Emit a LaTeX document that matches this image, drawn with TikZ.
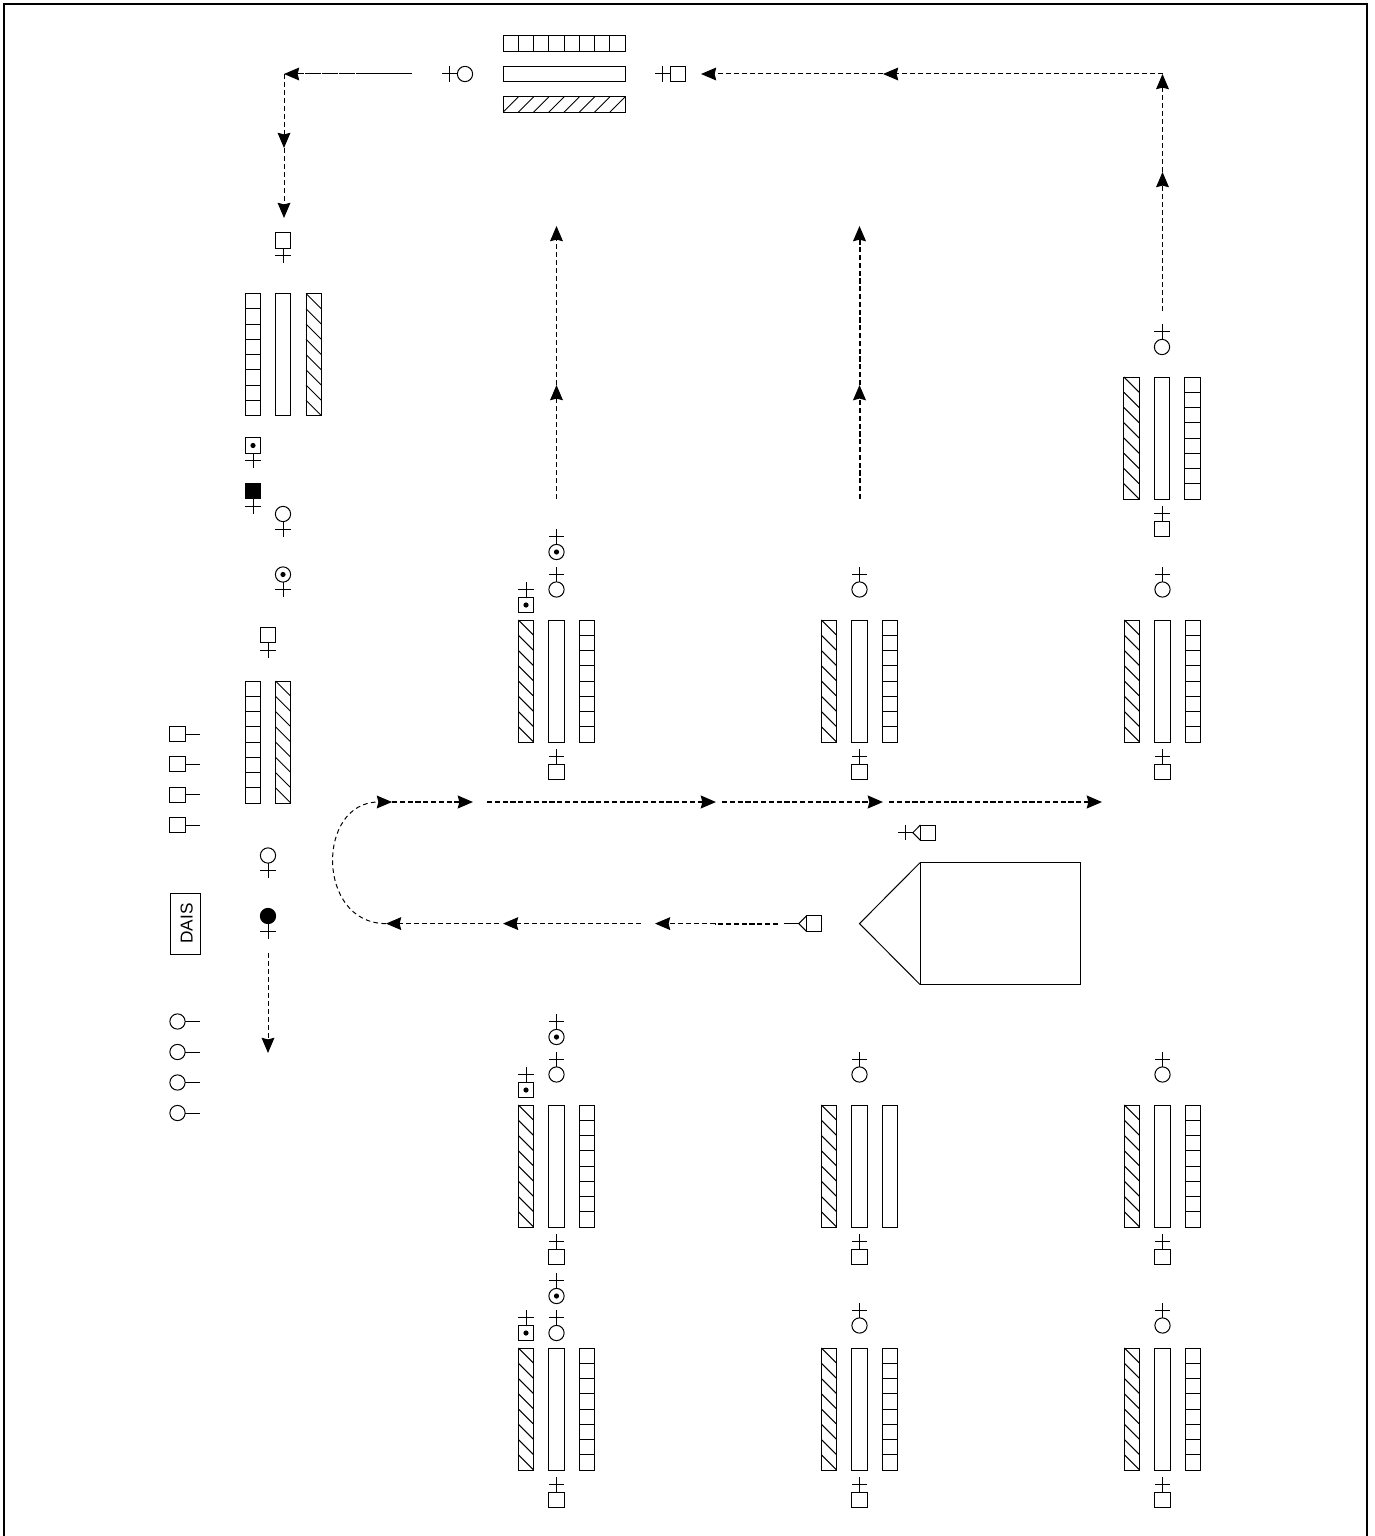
\documentclass[tikz,border=0pt]{standalone}
\usepackage{fontspec}
\setmainfont{Liberation Sans}
\usetikzlibrary{arrows.meta}
\tikzset{
  x=0.5pt,y=-0.5pt,
  ink/.style={line width=0.5pt,line join=miter},
  barbox/.style={draw,ink,rectangle,inner sep=0pt,outer sep=0pt,anchor=north west},
  vbar/.style={barbox,minimum width=7.625pt,minimum height=61pt},
  hbar/.style={barbox,minimum width=61pt,minimum height=7.625pt},
  sq/.style={draw,ink,rectangle,inner sep=0pt,outer sep=0pt,minimum size=7.625pt},
  circ/.style={draw,ink,circle,inner sep=0pt,outer sep=0pt,minimum size=7.625pt},
  fsq/.style={sq,fill=black},
  fcirc/.style={circ,fill=black},
  centredot/.style={circle,fill=black,inner sep=0pt,minimum size=2.6pt},
  tipped/.style={-{Stealth[length=7.6pt,width=6.4pt,inset=0.8pt]}},
  thinflow/.style={tipped,line width=0.5pt,dash pattern=on 2.3pt off 1.7pt},
  thickflow/.style={tipped,line width=1pt,dash pattern=on 2.6pt off 1.3pt},
  thickplain/.style={line width=1pt,dash pattern=on 2.6pt off 1.3pt},
  longflow/.style={tipped,line width=0.5pt,dash pattern=on 8pt off 0.5pt},
  frameline/.style={line width=1pt},
}
% vertical bars: name, x left, y top
\newcommand\plainv[3]{\node[vbar] (#1) at (#2,#3) {};}
\newcommand\gridv[3]{\node[vbar] (#1) at (#2,#3) {};
  \foreach \k in {1,...,7} \draw[ink] (#2,{#3+\k*15.25}) -- ++(15.25,0);}
\newcommand\hatchv[3]{\node[vbar] (#1) at (#2,#3) {};
  \foreach \k in {0,...,7} \draw[ink] (#2,{#3+\k*15.25}) -- ++(15.25,15.25);}
% symbol: name, node style, cx, cy, dx, dy of stem
\newcommand\sym[6]{\node[#2] (#1) at (#3,#4) {};
  \draw[ink] ({#3+#5*7.625},{#4+#6*7.625}) -- ({#3+#5*22.875},{#4+#6*22.875});
  \draw[ink] ({#3+#5*15.25-#6*7.625},{#4+#6*15.25-#5*7.625}) -- ({#3+#5*15.25+#6*7.625},{#4+#6*15.25+#5*7.625});}
\newcommand\dotted[6]{\sym{#1}{#2}{#3}{#4}{#5}{#6}\node[centredot] at (#3,#4) {};}
% symbol with stem, no cross bar
\newcommand\legend[4]{\node[#2] (#1) at (#3,#4) {};
  \draw[ink] ({#3+7.625},#4) -- ({#3+22.5},#4);}
% a column of three bars, named #1h #1p #1g, with centre x #2, top y #3, and pin symbols
\newcommand\threebars[3]{\hatchv{#1h}{#2-38.125}{#3}\plainv{#1p}{#2-7.625}{#3}\gridv{#1g}{#2+22.875}{#3}}
\begin{document}
\begin{tikzpicture}
\useasboundingbox (0,0) rectangle (1375,1536);
\fill[white] (0,0) rectangle (1375,1536);
\draw[frameline] (4.3,1536) -- (4.3,4.3) -- (1366.7,4.3) -- (1366.7,1536);

% top bars
\node[hbar] (tg) at (503,36) {};
\foreach \k in {1,...,7} \draw[ink] ({503+\k*15.25},36) -- ++(0,15.25);
\node[hbar] (tp) at (503,66.5) {};
\node[hbar] (th) at (503,97) {};
\foreach \k in {0,...,7} \draw[ink] ({503+\k*15.25},112.25) -- ++(15.25,-15.25);
\sym{tl}{circ}{465}{74}{-1}{0}
\sym{tr}{sq}{678}{74}{-1}{0}

% left column
\sym{la}{sq}{283}{240.5}{0}{1}
\gridv{lg}{245}{293.5}\plainv{lp}{275.5}{293.5}\hatchv{lh}{306}{293.5}
\dotted{lb}{sq}{253}{445.5}{0}{1}
\sym{lc}{fsq}{253}{491}{0}{1}
\sym{ld}{circ}{283}{514}{0}{1}
\dotted{le}{circ}{283}{574.5}{0}{1}
\sym{lf}{sq}{268}{635}{0}{1}
\gridv{mg}{245}{681}\hatchv{mh}{275.5}{681}
\sym{lj}{circ}{268}{855.5}{0}{1}
\sym{lk}{fcirc}{268}{916}{0}{1}
\legend{s1}{sq}{177.5}{734}
\legend{s2}{sq}{177.5}{764}
\legend{s3}{sq}{177.5}{794.7}
\legend{s4}{sq}{177.5}{825}
\legend{c1}{circ}{177.5}{1021.5}
\legend{c2}{circ}{177.5}{1052}
\legend{c3}{circ}{177.5}{1082.5}
\legend{c4}{circ}{177.5}{1113}
\node[draw,ink,rectangle,inner sep=0pt,rotate=90,minimum width=30.5pt,minimum height=15pt,text height=7.7pt,text depth=0pt,font=\fontsize{8.6pt}{10pt}\selectfont] (dais) at (185,923.5) {DAIS};

% right-top unit
\threebars{u}{1162}{377}
\sym{ua}{circ}{1162}{347}{0}{-1}
\sym{ub}{sq}{1162}{529}{0}{-1}

% row A
\threebars{a1}{556.5}{620}\threebars{a2}{859.5}{620}\threebars{a3}{1162.5}{620}
\sym{a1c}{circ}{556.5}{589.5}{0}{-1}
\sym{a2c}{circ}{859.5}{589.5}{0}{-1}
\sym{a3c}{circ}{1162.5}{589.5}{0}{-1}
\sym{a1s}{sq}{556.5}{771.7}{0}{-1}
\sym{a2s}{sq}{859.5}{771.7}{0}{-1}
\sym{a3s}{sq}{1162.5}{771.7}{0}{-1}
\dotted{a1d}{circ}{556.5}{552}{0}{-1}
\dotted{a1e}{sq}{526}{605}{0}{-1}

% row B
\threebars{b1}{556.5}{1105}
\hatchv{b2h}{821.375}{1105}\plainv{b2p}{851.875}{1105}\plainv{b2g}{882.375}{1105}
\threebars{b3}{1162.5}{1105}
\sym{b1c}{circ}{556.5}{1074.5}{0}{-1}
\sym{b2c}{circ}{859.5}{1074.5}{0}{-1}
\sym{b3c}{circ}{1162.5}{1074.5}{0}{-1}
\sym{b1s}{sq}{556.5}{1256.7}{0}{-1}
\sym{b2s}{sq}{859.5}{1256.7}{0}{-1}
\sym{b3s}{sq}{1162.5}{1256.7}{0}{-1}
\dotted{b1d}{circ}{556.5}{1037}{0}{-1}
\dotted{b1e}{sq}{526}{1090}{0}{-1}

% row C
\threebars{d1}{556.5}{1348}\threebars{d2}{859.5}{1348}\threebars{d3}{1162.5}{1348}
\sym{d1c}{circ}{556.5}{1333}{0}{-1}
\sym{d2c}{circ}{859.5}{1325.5}{0}{-1}
\sym{d3c}{circ}{1162.5}{1325.5}{0}{-1}
\sym{d1s}{sq}{556.5}{1499.7}{0}{-1}
\sym{d2s}{sq}{859.5}{1499.7}{0}{-1}
\sym{d3s}{sq}{1162.5}{1499.7}{0}{-1}
\dotted{d1d}{circ}{556.5}{1296}{0}{-1}
\dotted{d1e}{sq}{526}{1333}{0}{-1}

% big body
\draw[ink] (920,862.7) rectangle (1080,984.5);
\draw[ink] (920,862.7) -- (859.5,923.6) -- (920,984.5);

% small pointed symbols
\node[sq] (pa) at (928,832.7) {};
\draw[ink] (920.4,825) -- (912.8,832.7) -- (920.4,840.3);
\draw[ink] (912.8,832.7) -- (897.5,832.7);
\draw[ink] (905.1,825) -- (905.1,840.3);
\node[sq] (pb) at (814,923.6) {};
\draw[ink] (806.4,916) -- (798.8,923.6) -- (806.4,931.2);
\draw[ink] (798.8,923.6) -- (783.5,923.6);

% flow coordinates
\coordinate (f0) at (392,802);
\coordinate (f1) at (473,802);
\coordinate (f2) at (487,802);
\coordinate (f3) at (716,802);
\coordinate (f4) at (722,802);
\coordinate (f5) at (883,802);
\coordinate (f6) at (889,802);
\coordinate (f7) at (1102,802);
\coordinate (g0) at (778,923.6);
\coordinate (g1) at (715,923.6);
\coordinate (g2) at (655,923.6);
\coordinate (g3) at (641,923.6);
\coordinate (g4) at (503,923.6);
\coordinate (g5) at (499,923.6);
\coordinate (g6) at (386,923.6);
\coordinate (v1a) at (556.5,499);
\coordinate (v1b) at (556.5,385);
\coordinate (v1c) at (556.5,226);
\coordinate (v2a) at (859.5,499);
\coordinate (v2b) at (859.5,385);
\coordinate (v2c) at (859.5,226);
\coordinate (v3a) at (1162.5,311);
\coordinate (v3b) at (1162.5,172);
\coordinate (v3c) at (1162.5,74);
\coordinate (t1) at (883,74);
\coordinate (t2) at (701,74);
\coordinate (w0) at (412,74);
\coordinate (w1) at (372,74);
\coordinate (w2) at (284,74);
\coordinate (w3) at (284,148);
\coordinate (w4) at (284,218);
\coordinate (y0) at (268,953);
\coordinate (y1) at (268,1053);

% lower and upper horizontal flows
\draw[thickflow] (f0) -- (f1);
\draw[thickflow] (f2) -- (f3);
\draw[thickflow] (f4) -- (f5);
\draw[thickflow] (f6) -- (f7);
\draw[thickplain] (g0) -- (g1);
\draw[thinflow] (g1) -- (g2);
\draw[thinflow] (g3) -- (g4);
\draw[thinflow] (g5) -- (g6);
\draw[thinflow] (g6) .. controls (316,923.6) and (316,802) .. (f0);
% vertical flows
\draw[thinflow] (v1a) -- (v1b);
\draw[thinflow] (v1b) -- (v1c);
\draw[thickflow] (v2a) -- (v2b);
\draw[thickflow] (v2b) -- (v2c);
\draw[thinflow] (v3a) -- (v3b);
\draw[thinflow] (v3b) -- (v3c);
% top flows
\draw[thinflow] (v3c) -- (t1);
\draw[thinflow] (t1) -- (t2);
\draw[ink] (w0) -- (w1);
\draw[longflow] (w1) -- (w2);
\draw[thinflow] (w2) -- (w3);
\draw[thinflow] (w3) -- (w4);
\draw[thinflow] (y0) -- (y1);
\end{tikzpicture}
\end{document}
